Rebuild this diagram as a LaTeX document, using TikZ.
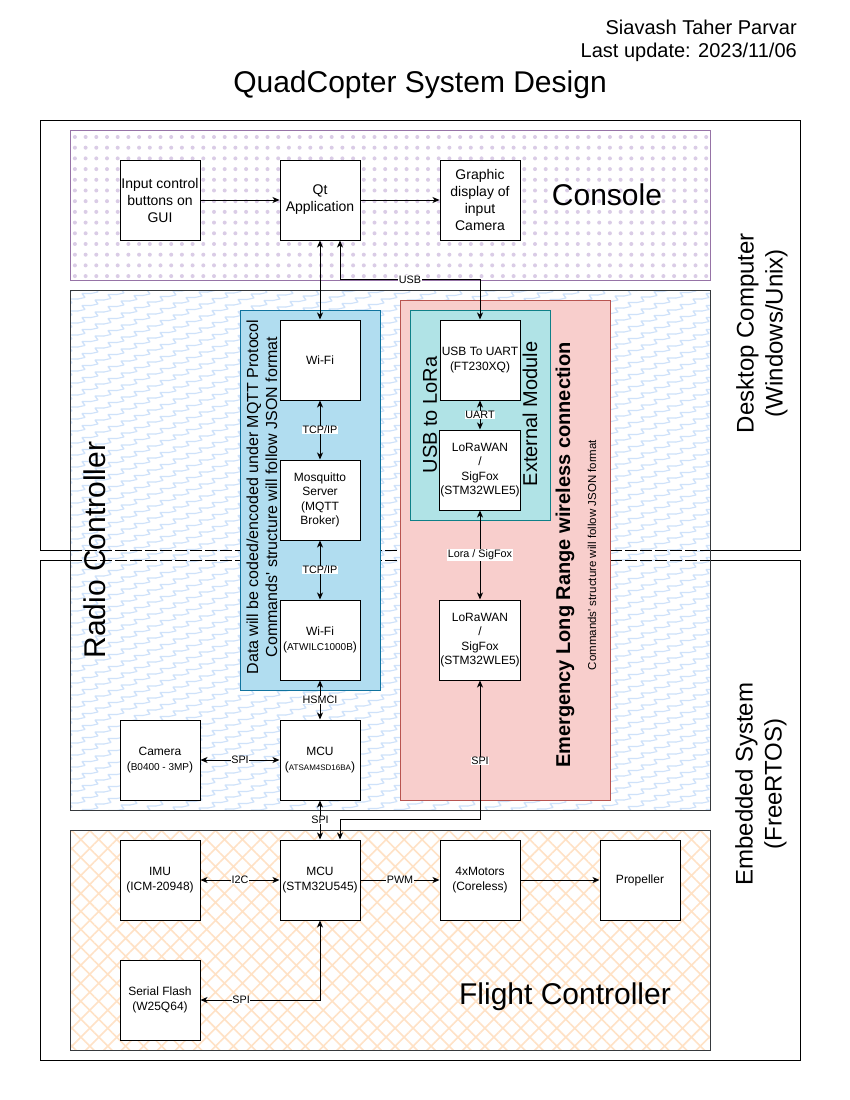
\documentclass[tikz,border=0pt]{standalone}
\usepackage{fontspec}
\setmainfont{Liberation Sans}
\usetikzlibrary{arrows.meta,positioning,patterns.meta}

\definecolor{consoleline}{HTML}{9673A6}
\definecolor{consoledot}{HTML}{DACCE6}
\definecolor{arealine}{HTML}{36393D}
\definecolor{wavecolor}{HTML}{CFE2FA}
\definecolor{hatchcolor}{HTML}{FFE2C6}
\definecolor{mqttfill}{HTML}{B1DDF0}
\definecolor{mqttline}{HTML}{10739E}
\definecolor{lorafill}{HTML}{F8CECC}
\definecolor{loraline}{HTML}{B85450}
\definecolor{modfill}{HTML}{B0E3E6}
\definecolor{modline}{HTML}{0E8088}

\tikzdeclarepattern{
  name=zigzag,
  type=uncolored,
  bottom left={(-1pt,-3pt)},
  top right={(14pt,5pt)},
  tile size={(13pt,12pt)},
  tile transformation={yslant=0.423},
  code={
    \draw[line width=1.1pt, line join=round, line cap=round] (0pt,0pt) -- (7pt,-1.46pt) -- (4pt,3.81pt) -- (13pt,0pt);
  }
}

\tikzset
{
    block/.style     = {rectangle, draw=black, fill=white, line width=1pt, minimum width=80, minimum height=80, inner sep=1pt, align=center, font=\fontsize{12}{14.4}\selectfont},
    guiblock/.style  = {block, font=\fontsize{14}{17}\selectfont},
    frame/.style     = {draw=black, line width=1pt},
    consolearea/.style = {draw=consoleline, line width=1pt, preaction={fill=white}, pattern={Dots[distance=10.7pt, radius=2pt]}, pattern color=consoledot},
    radioarea/.style = {draw=arealine, line width=1pt, preaction={fill=white}, pattern=zigzag, pattern color=wavecolor},
    flightarea/.style = {draw=arealine, line width=1pt, preaction={fill=white}, pattern={Hatch[angle=45, distance=12.7pt, line width=1.6pt]}, pattern color=hatchcolor},
    mqttbox/.style   = {draw=mqttline, fill=mqttfill, line width=1pt},
    lorabox/.style   = {draw=loraline, fill=lorafill, line width=1pt},
    modbox/.style    = {draw=modline, fill=modfill, line width=1pt},
    arrow/.style     = {line width=1pt, ->},
    biarrow/.style   = {line width=1pt, <->},
    elabel/.style    = {fill=white, inner sep=0.5pt, font=\fontsize{10.8}{12}\selectfont},
    bigtext/.style   = {inner sep=0pt, font=\fontsize{30}{36}\selectfont},
    sidetext/.style  = {rotate=90, align=center, inner sep=0pt, font=\fontsize{24}{29}\selectfont},
    grouptext/.style = {rotate=90, inner sep=0pt, font=\fontsize{20}{24}\selectfont}
}

\begin{document}
\begin{tikzpicture}[x=1pt, y=-1pt, >={Stealth[length=7pt, width=6pt, inset=2pt]}]

   \newcommand\BLOCKDX{160}
   \newcommand\BLOCKDY{140}

   \useasboundingbox (0,0) rectangle (850,1100);

   % frames and groups
   \draw[frame] (40,120) rectangle (800,550);
   \draw[frame] (40,560) rectangle (800,1060);
   \draw[consolearea] (70,130) rectangle (710,280);
   \draw[radioarea] (70,290) rectangle (710,810);
   \draw[line width=1pt, dash pattern=on 12pt off 3pt] (70,550) -- (710,550);
   \draw[line width=1pt, dash pattern=on 12pt off 3pt] (70,560) -- (710,560);
   \draw[flightarea] (70,830) rectangle (710,1050);
   \draw[mqttbox] (240,310) rectangle (380,690);
   \draw[lorabox] (400,300) rectangle (610,800);
   \draw[modbox] (410,310) rectangle (550,520);

   % texts
   \node (title)   [bigtext] at (420,85) {QuadCopter System Design};
   \node (author)  [anchor=east, align=right, inner sep=0pt, font=\fontsize{20}{23}\selectfont] at (797,41) {Siavash Taher Parvar\\Last update: 2023/11/06};
   \node (console) [bigtext] at (607,195) {Console};
   \node (flight)  [bigtext] at (565,997) {Flight Controller};
   \node (radio)   [bigtext, rotate=90] at (95,550) {Radio Controller};
   \node (desktop) [sidetext] at (762,333) {Desktop Computer\\(Windows/Unix)};
   \node (embedded) [sidetext] at (761,784) {Embedded System\\(FreeRTOS)};
   \node (mqttnote) [rotate=90, align=center, inner sep=0pt, font=\fontsize{16}{19}\selectfont] at (262,497) {Data will be coded/encoded under MQTT Protocol\\Commands\textquotesingle\ structure will follow JSON format};
   \node (emergency) [grouptext, font=\fontsize{20}{24}\selectfont\bfseries] at (565,555) {Emergency Long Range wireless connection};
   \node (loranote) [rotate=90, inner sep=0pt, font=\fontsize{11.5}{14}\selectfont] at (592,555) {Commands\textquotesingle\ structure will follow JSON format};
   \node (usblora) [grouptext] at (430,415) {USB to LoRa};
   \node (external) [grouptext] at (530,414) {External Module};

   % blocks
   \node (gui)    [guiblock] at (160,200) {Input control\\buttons on\\GUI};
   \node (qt)     [guiblock] at ([shift=({\BLOCKDX, 0})]gui) {Qt\\Application};
   \node (disp)   [guiblock] at ([shift=({\BLOCKDX, 0})]qt) {Graphic\\display of\\input\\Camera};
   \node (wifi)   [block] at ([shift=({0, 160})]qt) {Wi-Fi};
   \node (broker) [block] at ([shift=({0, \BLOCKDY})]wifi) {Mosquitto\\Server\\(MQTT\\Broker)};
   \node (wifim)  [block] at ([shift=({0, \BLOCKDY})]broker) {Wi-Fi\\({\fontsize{10}{12}\selectfont ATWILC1000B})};
   \node (mcurc)  [block] at ([shift=({0, 120})]wifim) {MCU\\({\fontsize{8}{10}\selectfont ATSAM4SD16BA})};
   \node (cam)    [block] at ([shift=({-\BLOCKDX, 0})]mcurc) {Camera\\({\fontsize{10}{12}\selectfont B0400 - 3MP})};
   \node (uart)   [block] at ([shift=({\BLOCKDX, 0})]wifi) {USB To UART\\(FT230XQ)};
   \node (lorae)  [block] at ([shift=({0, 110})]uart) {LoRaWAN\\/\\SigFox\\(STM32WLE5)};
   \node (lorarc) [block] at ([shift=({\BLOCKDX, 0})]wifim) {LoRaWAN\\/\\SigFox\\(STM32WLE5)};
   \node (mcufc)  [block] at ([shift=({0, 120})]mcurc) {MCU\\(STM32U545)};
   \node (imu)    [block] at ([shift=({-\BLOCKDX, 0})]mcufc) {IMU\\(ICM-20948)};
   \node (motors) [block] at ([shift=({\BLOCKDX, 0})]mcufc) {4xMotors\\(Coreless)};
   \node (prop)   [block] at ([shift=({\BLOCKDX, 0})]motors) {Propeller};
   \node (flash)  [block] at ([shift=({0, 120})]imu) {Serial Flash\\(W25Q64)};

   % links
   \path
      (gui)    edge[arrow]   (qt)
      (qt)     edge[arrow]   (disp)
      (qt)     edge[biarrow] (wifi)
      (wifi)   edge[biarrow] node[elabel] {TCP/IP} (broker)
      (broker) edge[biarrow] node[elabel] {TCP/IP} (wifim)
      (wifim)  edge[biarrow] node[elabel] {HSMCI} (mcurc)
      (cam)    edge[biarrow] node[elabel] {SPI} (mcurc)
      (mcurc)  edge[biarrow] node[elabel] {SPI} (mcufc)
      (uart)   edge[biarrow] node[elabel] {UART} (lorae)
      (lorae)  edge[biarrow] node[elabel] {Lora / SigFox} (lorarc)
      (imu)    edge[biarrow] node[elabel] {I2C} (mcufc)
      (mcufc)  edge[arrow]   node[elabel] {PWM} (motors)
      (motors) edge[arrow]   (prop);

   \draw[biarrow] ([xshift=20]qt.south) |- node[elabel, pos=0.75] {USB} ([yshift=40]uart.north) -- (uart.north);
   \draw[biarrow] (lorarc.south) |- node[elabel, pos=0.29] {SPI} ([xshift=20, yshift=20]mcufc.north) -- ([xshift=20]mcufc.north);
   \draw[biarrow] (flash.east) -| node[elabel, pos=0.17] {SPI} (mcufc.south);

\end{tikzpicture}
\end{document}
